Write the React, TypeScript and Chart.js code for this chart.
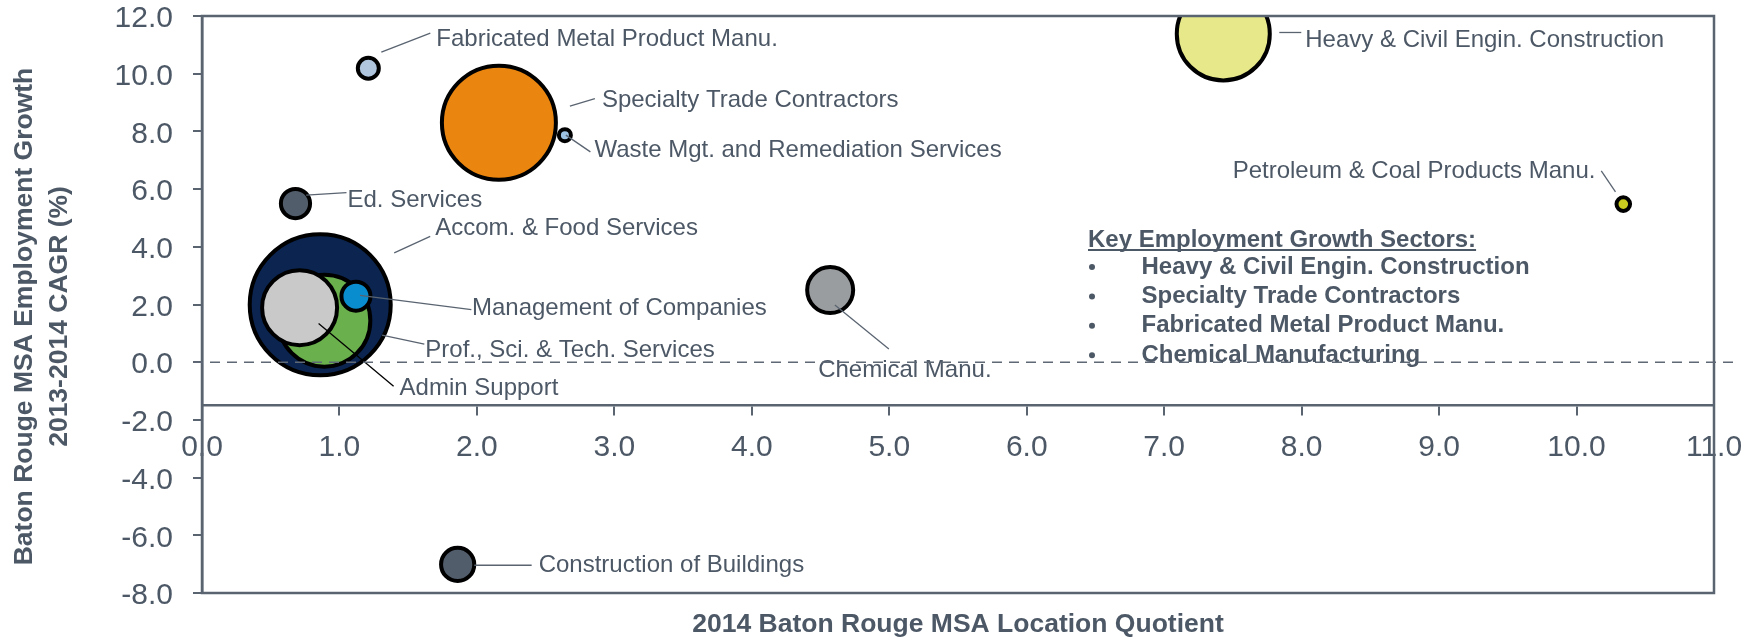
import React, { useEffect, useRef } from "react";
import { Chart, registerables } from "chart.js";

Chart.register(...registerables);

// ---------- DATA ----------
const sectors = [
  "Accom. & Food Services",
  "Prof., Sci. & Tech. Services",
  "Admin Support",
  "Management of Companies",
  "Fabricated Metal Product Manu.",
  "Specialty Trade Contractors",
  "Waste Mgt. and Remediation Services",
  "Ed. Services",
  "Heavy & Civil Engin. Construction",
  "Petroleum & Coal Products Manu.",
  "Chemical Manu.",
  "Construction of Buildings",
];
// 2014 location quotient (x)
const locationQuotient = [0.86, 0.89, 0.71, 1.12, 1.21, 2.16, 2.64, 0.68, 7.43, 10.34, 4.57, 1.86];
// 2013-2014 employment CAGR % (y)
const employmentGrowth = [1.99, 1.44, 1.89, 2.29, 10.19, 8.3, 7.87, 5.5, 11.38, 5.48, 2.5, -7.01];
// bubble size (px radius)
const bubbleSize = [70.5, 46, 37.5, 14.5, 10.5, 57, 6, 14.6, 46.5, 6.8, 23, 16.6];

const xTickValues = [0, 1, 2, 3, 4, 5, 6, 7, 8, 9, 10, 11];
const yTickValues = [-8, -6, -4, -2, 0, 2, 4, 6, 8, 10, 12];

const keySectorsTitle = "Key Employment Growth Sectors:";
const keySectors = [
  "Heavy & Civil Engin. Construction",
  "Specialty Trade Contractors",
  "Fabricated Metal Product Manu.",
  "Chemical Manufacturing",
];

const xTitle = "2014 Baton Rouge MSA Location Quotient";
const yTitleLines = ["Baton Rouge MSA Employment Growth", "2013-2014 CAGR (%)"];

// ---------- STYLE ----------
const bubbleColors = [
  "#0b2550", "#6ab04c", "#c9c9c9", "#0a8dcf", "#b0c6de", "#ea850f",
  "#9ec2e2", "#525d6b", "#e6e88a", "#cacd1f", "#9a9da0", "#525d6b",
];
const axisColor = "#5a6471";
const textColor = "#4d5866";
const FONT = '"Liberation Sans", Arial, Helvetica, sans-serif';

// label leader offsets relative to bubble centre (px): line start, line end, text anchor
type LabelLayout = { line: number[]; text: number[]; align: CanvasTextAlign; lineColor?: string };
const labelLayout: LabelLayout[] = [
  { line: [74, -52, 110, -68.5], text: [115, -76.5], align: "left" },
  { line: [57.7, 14.5, 100, 23.5], text: [101, 30.2], align: "left" },
  { line: [19, 15.8, 94, 78.5], text: [100, 80.5], align: "left", lineColor: "#000" },
  { line: [4, -0.8, 115.4, 13.5], text: [116, 12.2], align: "left" },
  { line: [13, -16, 62, -35], text: [68, -29], align: "left" },
  { line: [71, -16.5, 96, -24], text: [103, -22.5], align: "left" },
  { line: [1, 0, 25.5, 16.7], text: [29.5, 15], align: "left" },
  { line: [10.7, -8.3, 51, -11], text: [52, -3.3], align: "left" },
  { line: [56, -1.4, 78, -1.4], text: [82, 6.3], align: "left" },
  { line: [-7.8, -12.3, -22, -33.3], text: [-27.8, -32.3], align: "right" },
  { line: [4.7, 15, 58.7, 59], text: [74.7, 80.7], align: "center" },
  { line: [16.6, 0.8, 74, 0.8], text: [81, 0.8], align: "left" },
];

const annotationPlugin = {
  id: "bubbleAnnotations",
  afterDatasetsDraw(chart: any) {
    const ctx: CanvasRenderingContext2D = chart.ctx;
    const meta = chart.getDatasetMeta(0);
    ctx.save();
    meta.data.forEach((el: any, i: number) => {
      const { x, y } = el.getProps(["x", "y"], true);
      const a = labelLayout[i];
      ctx.beginPath();
      ctx.strokeStyle = a.lineColor || axisColor;
      ctx.lineWidth = 1.3;
      ctx.moveTo(x + a.line[0], y + a.line[1]);
      ctx.lineTo(x + a.line[2], y + a.line[3]);
      ctx.stroke();
      ctx.font = `24px ${FONT}`;
      ctx.fillStyle = textColor;
      ctx.textAlign = a.align;
      ctx.textBaseline = "middle";
      ctx.fillText(sectors[i], x + a.text[0], y + a.text[1]);
    });
    ctx.restore();
  },
  afterDraw(chart: any) {
    const ctx: CanvasRenderingContext2D = chart.ctx;
    const area = chart.chartArea;
    const yScale = chart.scales.y;
    ctx.save();
    // frame
    ctx.strokeStyle = axisColor;
    ctx.lineWidth = 2.5;
    ctx.strokeRect(area.left, area.top, area.right - area.left, area.bottom - area.top);
    // zero line
    const y0 = yScale.getPixelForValue(0);
    ctx.beginPath();
    ctx.setLineDash([10, 7]);
    ctx.lineWidth = 1.5;
    ctx.strokeStyle = "#5f6976";
    ctx.moveTo(area.left - 9, y0);
    ctx.lineTo(area.right + 19, y0);
    ctx.stroke();
    ctx.setLineDash([]);

    // key box
    ctx.fillStyle = textColor;
    ctx.textBaseline = "middle";
    ctx.textAlign = "left";
    ctx.font = `bold 24px ${FONT}`;
    const kx = 1088;
    const ky = 240;
    ctx.fillText(keySectorsTitle, kx, ky);
    const w = ctx.measureText(keySectorsTitle).width;
    ctx.fillRect(kx, ky + 9, w, 2);
    keySectors.forEach((s, i) => {
      const yy = ky + 27 + i * 29.4;
      ctx.font = `bold 24px ${FONT}`;
      ctx.fillText(s, kx + 53.5, yy);
      ctx.beginPath();
      ctx.arc(kx + 4, yy, 3, 0, Math.PI * 2);
      ctx.fill();
    });

    // axis titles
    ctx.font = `bold 26.5px ${FONT}`;
    ctx.textAlign = "center";
    ctx.fillText(xTitle, (area.left + area.right) / 2, 625);
    ctx.save();
    ctx.translate(0, 316.5);
    ctx.rotate(-Math.PI / 2);
    ctx.fillText(yTitleLines[0], 0, 24.5);
    ctx.fillText(yTitleLines[1], 0, 59.5);
    ctx.restore();
    ctx.restore();
  },
};

export default function App() {
  const ref = useRef<HTMLCanvasElement | null>(null);
  useEffect(() => {
    if (!ref.current) return;
    Chart.defaults.font.family = FONT;
    const chart = new Chart(ref.current, {
      type: "bubble",
      data: {
        datasets: [
          {
            data: sectors.map((_, i) => ({
              x: locationQuotient[i],
              y: employmentGrowth[i],
              r: bubbleSize[i],
            })),
            backgroundColor: bubbleColors,
            borderColor: "#000000",
            borderWidth: 4,
            clip: 0,
          } as any,
        ],
      },
      options: {
        responsive: false,
        animation: false,
        events: [],
        layout: { autoPadding: false, padding: { top: 16, right: 43, bottom: 47, left: 0 } },
        plugins: { legend: { display: false }, tooltip: { enabled: false } },
        scales: {
          x: {
            type: "linear",
            min: 0,
            max: 11,
            position: { y: -1.5 } as any,
            afterBuildTicks: (s: any) => {
              s.ticks = xTickValues.map((v) => ({ value: v }));
            },
            afterFit: (s: any) => {
              s.height = 0;
              s.paddingLeft = 0;
              s.paddingRight = 0;
              s.paddingTop = 0;
              s.paddingBottom = 0;
            },
            ticks: {
              color: textColor,
              font: { size: 30 },
              padding: 15,
              maxRotation: 0,
              autoSkip: false,
              callback: (v: any) => Number(v).toFixed(1),
            },
            grid: { drawOnChartArea: false, drawTicks: true, tickLength: 9, color: axisColor, lineWidth: 2 },
            border: { display: true, color: axisColor, width: 2.5 },
          },
          y: {
            type: "linear",
            min: -8,
            max: 12,
            afterFit: (s: any) => {
              s.width = 202;
              s.paddingTop = 0;
              s.paddingBottom = 0;
            },
            afterBuildTicks: (s: any) => {
              s.ticks = yTickValues.map((v) => ({ value: v }));
            },
            ticks: {
              color: textColor,
              font: { size: 30, lineHeight: 1 },
              padding: 20,
              labelOffset: 3,
              autoSkip: false,
              callback: (v: any) => Number(v).toFixed(1),
            },
            grid: { drawOnChartArea: false, drawTicks: true, tickLength: 9, color: axisColor, lineWidth: 2 },
            border: { display: true, color: axisColor, width: 2.5 },
          },
        },
      },
      plugins: [annotationPlugin],
    });
    return () => chart.destroy();
  }, []);
  return (
    <div style={{ position: "absolute", left: 0, top: 0, width: 1757, height: 640, background: "#fff" }}>
      <canvas ref={ref} width={1757} height={640} />
    </div>
  );
}
